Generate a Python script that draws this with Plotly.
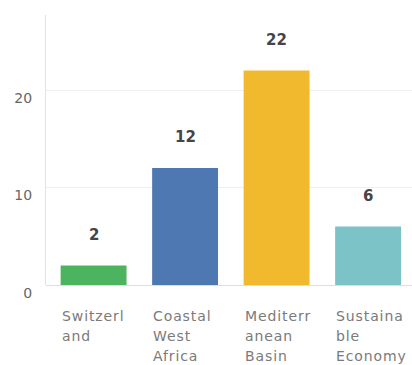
import plotly.graph_objects as go

categories = ["Switzerland", "Coastal West Africa", "Mediterranean Basin", "Sustainable Economy"]
label_lines = [["Switzerl", "and"], ["Coastal", "West", "Africa"], ["Mediterr", "anean", "Basin"], ["Sustaina", "ble", "Economy"]]
values = [2, 12, 22, 6]
colors = ["#4cb35e", "#4e78b1", "#f1b92e", "#7cc3c8"]
y_ticks = [0, 10, 20]

fig = go.Figure()
fig.add_trace(go.Bar(
    x=categories, y=values, marker=dict(color=colors, line=dict(width=0)),
    hoverinfo="skip", showlegend=False,
))

annotations = []
for c, v in zip(categories, values):
    annotations.append(dict(
        x=c, y=v, xref="x", yref="y", text=str(v), showarrow=False,
        yanchor="middle", yshift=31,
        font=dict(family="DejaVu Sans", size=15, color="#454545", weight="bold"),
    ))
for c, lines in zip(categories, label_lines):
    for i, line in enumerate(lines):
        annotations.append(dict(
            x=c, y=0, xref="x", yref="y",
            text='<span style="letter-spacing:0.9px">' + line + '</span>',
            showarrow=False,
            xanchor="left", yanchor="middle", xshift=-34, yshift=-31 - 20 * i,
            font=dict(family="DejaVu Sans", size=14, color="#7a7a7a"),
        ))

fig.update_layout(
    width=412, height=365,
    margin=dict(l=46, r=0, t=15, b=80),
    paper_bgcolor="white", plot_bgcolor="white",
    bargap=0.28,
    annotations=annotations,
    xaxis=dict(range=[-0.52, 3.48], showticklabels=False, showgrid=False,
               zeroline=False, showline=False, fixedrange=True),
    yaxis=dict(range=[0, 27.7], tickvals=y_ticks, ticktext=[str(t) for t in y_ticks],
               showgrid=True, gridcolor="#efefef", gridwidth=1,
               zeroline=True, zerolinecolor="#dddddd", zerolinewidth=1,
               showline=True, linecolor="#e2e2e2", linewidth=1,
               ticks="", ticklabelshift=8, ticklabelstandoff=10,
               tickfont=dict(family="DejaVu Sans", size=14, color="#666666"),
               fixedrange=True),
)

fig.write_html("out.html", config={"displayModeBar": False})
